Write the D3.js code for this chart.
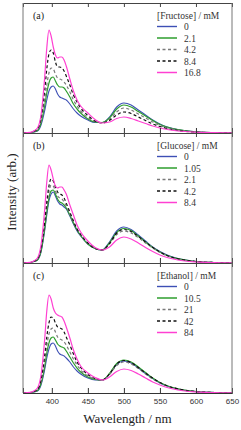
<!DOCTYPE html>
<html>
<head>
<meta charset="utf-8">
<script src="https://cdn.jsdelivr.net/npm/d3@7"></script>
<style>
  body { margin: 0; background: #fff; }
  svg { display: block; }
</style>
</head>
<body>
<div id="chart"></div>
<script>
// 1: DATA
const wavelengths = [360, 370, 375, 380, 385, 390, 393, 396, 399, 402, 405, 408, 411, 414, 417, 420,
    425, 430, 435, 440, 450, 460, 470, 480, 490, 500, 510, 520, 530, 540, 550, 560, 575, 600, 625, 650];
const xTicks = [400, 450, 500, 550, 600, 650];

const panelLabels = ["(a)", "(b)", "(c)"];
const legendTitles = ["[Fructose] / mM", "[Glucose] / mM", "[Ethanol] / mM"];
const fructoseLevels = ["0", "2.1", "4.2", "8.4", "16.8"];
const glucoseLevels = ["0", "1.05", "2.1", "4.2", "8.4"];
const ethanolLevels = ["0", "10.5", "21", "42", "84"];

// intensities (arb.), one array per concentration, same order as the levels
const fructoseSpectra = [
    [0, .003, .01, .02, .08, .22, .33, .42, .46, .47, .44, .39, .36, .35, .34, .33, .29, .24, .20, .17, .13, .105, .105, .16, .26, .30, .28, .23, .18, .13, .09, .06, .035, .012, .004, .001],
    [0, .003, .012, .025, .10, .27, .40, .50, .55, .56, .52, .48, .46, .46, .45, .42, .36, .29, .24, .20, .14, .11, .105, .15, .24, .28, .26, .215, .17, .125, .085, .06, .033, .011, .004, .001],
    [0, .004, .014, .03, .12, .33, .48, .60, .65, .64, .59, .55, .54, .53, .51, .48, .41, .33, .27, .22, .155, .115, .103, .135, .21, .25, .23, .19, .15, .11, .075, .05, .03, .01, .003, .001],
    [0, .005, .018, .04, .15, .42, .64, .79, .83, .80, .71, .66, .66, .65, .62, .57, .48, .38, .31, .25, .175, .12, .10, .125, .18, .21, .195, .16, .125, .09, .065, .045, .025, .009, .003, .001],
    [0, .006, .02, .05, .18, .55, .85, 1.03, .97, .86, .78, .75, .76, .76, .73, .67, .54, .42, .33, .27, .20, .135, .10, .11, .145, .16, .145, .12, .095, .07, .05, .035, .02, .008, .003, .001]
];
const glucoseSpectra = [
    [0, .004, .014, .03, .11, .32, .48, .62, .69, .71, .67, .62, .59, .58, .56, .54, .47, .39, .32, .27, .19, .145, .13, .21, .32, .36, .335, .28, .22, .16, .115, .08, .045, .015, .005, .001],
    [0, .004, .015, .03, .12, .34, .51, .65, .72, .73, .69, .64, .61, .60, .58, .55, .48, .40, .33, .275, .19, .145, .13, .20, .305, .345, .325, .27, .21, .155, .11, .075, .043, .015, .005, .001],
    [0, .005, .016, .035, .13, .37, .56, .71, .78, .77, .72, .67, .65, .64, .61, .57, .49, .41, .335, .28, .195, .145, .13, .19, .285, .32, .30, .255, .20, .15, .105, .072, .04, .014, .005, .001],
    [0, .005, .017, .04, .14, .40, .61, .77, .84, .82, .76, .71, .69, .68, .65, .60, .51, .42, .34, .285, .20, .145, .13, .195, .30, .335, .315, .265, .21, .155, .11, .075, .042, .015, .005, .001],
    [0, .006, .02, .05, .18, .53, .81, .98, .93, .84, .77, .75, .76, .76, .73, .69, .58, .48, .38, .31, .22, .155, .13, .16, .23, .26, .24, .20, .155, .115, .08, .055, .03, .011, .004, .001]
];
const ethanolSpectra = [
    [0, .003, .01, .02, .08, .23, .35, .44, .49, .50, .47, .42, .39, .38, .37, .35, .31, .26, .22, .19, .15, .13, .13, .19, .285, .32, .30, .25, .195, .145, .10, .07, .04, .014, .005, .001],
    [0, .003, .012, .025, .095, .26, .40, .50, .55, .56, .53, .49, .47, .46, .45, .42, .36, .30, .25, .21, .16, .135, .13, .195, .295, .33, .31, .26, .205, .15, .105, .073, .042, .015, .005, .001],
    [0, .004, .013, .03, .11, .31, .47, .59, .64, .65, .61, .56, .54, .53, .51, .48, .41, .34, .28, .23, .17, .14, .13, .185, .275, .31, .29, .245, .19, .14, .10, .07, .04, .014, .005, .001],
    [0, .005, .015, .035, .13, .37, .56, .70, .76, .75, .70, .66, .65, .64, .61, .56, .48, .39, .31, .255, .185, .145, .13, .19, .29, .325, .305, .255, .20, .15, .105, .072, .041, .015, .005, .001],
    [0, .006, .02, .05, .18, .53, .82, .98, .94, .85, .80, .78, .77, .76, .72, .66, .55, .43, .34, .27, .20, .155, .13, .16, .215, .24, .225, .19, .15, .11, .08, .055, .03, .011, .004, .001]
];

// 2: LAYOUT
const W = 241, H = 430;
const margin = { top: 3, right: 9, bottom: 37, left: 23 };
const plotW = W - margin.left - margin.right;
const panelH = 130;

const lineStyles = [
    { color: "#3d4fb5", dash: null, width: 1.1 },
    { color: "#2e9e2e", dash: null, width: 1.2 },
    { color: "#7a7a7a", dash: "3,2.5", width: 1.2 },
    { color: "#111111", dash: "3,2.5", width: 1.2 },
    { color: "#ff40d2", dash: null, width: 1.2 }
];

const panels = [
    { label: panelLabels[0], title: legendTitles[0], levels: fructoseLevels, spectra: fructoseSpectra },
    { label: panelLabels[1], title: legendTitles[1], levels: glucoseLevels, spectra: glucoseSpectra },
    { label: panelLabels[2], title: legendTitles[2], levels: ethanolLevels, spectra: ethanolSpectra }
];

const svg = d3.select("#chart").append("svg")
    .attr("width", W)
    .attr("height", H);

svg.append("rect").attr("width", W).attr("height", H).attr("fill", "#fff");

const xScale = d3.scaleLinear()
    .domain([360, 650])
    .range([margin.left, margin.left + plotW]);

// 3: PANELS
panels.forEach((p, i) => {
    const top = margin.top + i * panelH;
    const bottom = top + panelH;
    const yScale = d3.scaleLinear().domain([0, 1.3]).range([bottom, top]);

    const g = svg.append("g");

    const line = d3.line()
        .x((d, k) => xScale(wavelengths[k]))
        .y(d => yScale(d))
        .curve(d3.curveMonotoneX);

    g.selectAll("path.spec")
        .data(p.spectra)
        .enter()
        .append("path")
        .attr("class", "spec")
        .attr("d", d => line(d))
        .attr("fill", "none")
        .attr("stroke", (d, k) => lineStyles[k].color)
        .attr("stroke-width", (d, k) => lineStyles[k].width)
        .attr("stroke-dasharray", (d, k) => lineStyles[k].dash);

    // frame: bottom axis with inward ticks, top axis with inward ticks
    g.append("g")
        .attr("transform", `translate(0,${bottom})`)
        .call(d3.axisTop(xScale).tickValues(xTicks).tickSize(5).tickFormat(""))
        .call(a => a.selectAll("line,path").attr("stroke", "#333"));
    g.append("g")
        .attr("transform", `translate(0,${top})`)
        .call(d3.axisBottom(xScale).tickValues(xTicks).tickSize(4).tickFormat(""))
        .call(a => a.selectAll("line,path").attr("stroke", "#444"));
    g.append("line")
        .attr("x1", margin.left).attr("x2", margin.left)
        .attr("y1", top).attr("y2", bottom)
        .attr("stroke", "#777");
    g.append("line")
        .attr("x1", margin.left + plotW).attr("x2", margin.left + plotW)
        .attr("y1", top).attr("y2", bottom)
        .attr("stroke", "#777");

    // panel label
    g.append("text")
        .attr("x", 33)
        .attr("y", top + 16)
        .style("font-family", "'Liberation Serif', 'Times New Roman', serif")
        .style("font-size", "10px")
        .style("fill", "#222")
        .text(p.label);

    // legend
    const lg = g.append("g").attr("transform", `translate(157,${top + 12})`);
    lg.append("text")
        .attr("x", 0)
        .attr("y", 3.5)
        .style("font-family", "'Liberation Serif', 'Times New Roman', serif")
        .style("font-size", "9.5px")
        .style("fill", "#333")
        .text(p.title);
    const item = lg.selectAll(".legend")
        .data(p.levels)
        .enter()
        .append("g")
        .attr("class", "legend")
        .attr("transform", (d, k) => `translate(0,${11.5 * (k + 1)})`);
    item.append("line")
        .attr("x1", 0).attr("x2", 20)
        .attr("stroke", (d, k) => lineStyles[k].color)
        .attr("stroke-width", (d, k) => lineStyles[k].width + 0.3)
        .attr("stroke-dasharray", (d, k) => lineStyles[k].dash);
    item.append("text")
        .attr("x", 27)
        .attr("y", 3.5)
        .style("font-family", "'Liberation Serif', 'Times New Roman', serif")
        .style("font-size", "9.5px")
        .style("fill", "#333")
        .text(d => d);
});

// 4: TICK LABELS + AXIS TITLES
const bottomY = margin.top + 3 * panelH;
svg.append("g")
    .attr("transform", `translate(0,${bottomY})`)
    .call(d3.axisBottom(xScale).tickValues(xTicks).tickSize(0).tickPadding(5))
    .call(a => a.select(".domain").remove())
    .call(a => a.selectAll("text")
        .style("font-family", "'Liberation Sans', Arial, sans-serif")
        .style("font-size", "8px")
        .style("fill", "#333"));

svg.append("text")
    .attr("x", margin.left + plotW / 2)
    .attr("y", 423)
    .attr("text-anchor", "middle")
    .style("font-family", "'Liberation Serif', 'Times New Roman', serif")
    .style("font-size", "13px")
    .style("fill", "#222")
    .text("Wavelength / nm");

svg.append("text")
    .attr("transform", "rotate(-90)")
    .attr("x", -192)
    .attr("y", 16)
    .attr("text-anchor", "middle")
    .style("font-family", "'Liberation Serif', 'Times New Roman', serif")
    .style("font-size", "13px")
    .style("fill", "#222")
    .text("Intensity (arb.)");
</script>
</body>
</html>
